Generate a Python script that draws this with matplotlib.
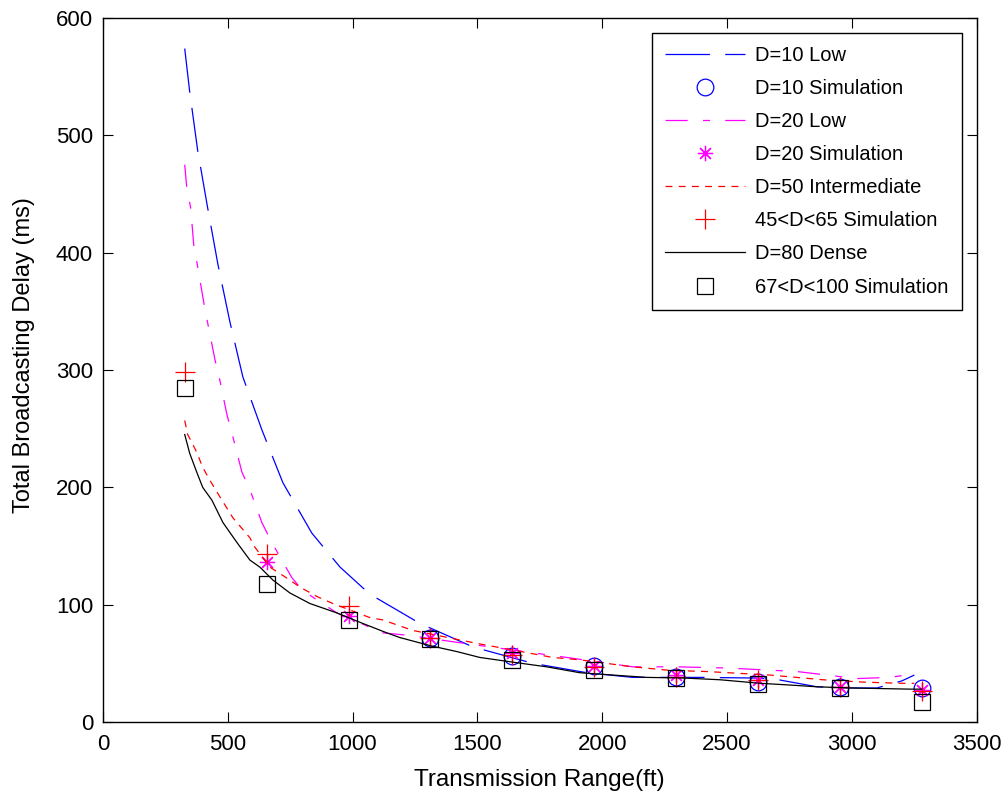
import matplotlib
matplotlib.use("Agg")
import matplotlib.pyplot as plt

plt.rcParams['font.family'] = ['Liberation Sans', 'DejaVu Sans']
plt.rcParams['lines.scale_dashes'] = False

# ---- analytic curves ----
x10 = [328, 348, 380, 420, 461, 509, 561, 637, 721, 837, 950, 1069, 1270, 1482, 1722,
       1938, 2122, 2400, 2600, 2680, 2860, 3000, 3100, 3200, 3250]
y10 = [574, 537, 487, 438, 390, 341, 294, 249, 204, 161, 132, 109, 84, 64, 50,
       42, 38, 38, 37.5, 37, 30, 29, 29, 35, 40]

x20 = [328, 336, 352, 364, 380, 404, 420, 449, 469, 497, 521, 557, 589, 637, 677, 757,
       801, 937, 1121, 1217, 1482, 1858, 2122, 2300, 2500, 2780, 3020, 3150, 3220]
y20 = [475, 456, 438, 407, 388, 358, 340, 309, 291, 262, 243, 213, 198, 170, 153, 123,
       112, 93, 76, 74, 66, 55, 47, 47, 46, 43, 37, 38, 40]

x50 = [328, 340, 376, 400, 429, 457, 489, 521, 557, 589, 609, 669, 749, 789, 857, 921,
       1069, 1121, 1242, 1498, 1802, 1910, 2122, 2271, 2419, 2671, 2779, 2883, 3044, 3192, 3250]
y50 = [257, 245, 230, 217, 206, 196, 185, 174, 165, 157, 149, 132, 121, 115, 107, 101,
       89, 87, 78, 67, 55, 53, 47, 44, 43, 40, 38, 36, 34, 33, 33]

x80 = [328, 348, 376, 400, 437, 481, 537, 589, 629, 681, 749, 829, 937, 1041, 1137, 1189,
       1312, 1418, 1510, 1642, 1778, 1910, 2042, 2179, 2323, 2471, 2631, 2751, 2859, 2992, 3232, 3280]
y80 = [245, 229, 213, 200, 189, 170, 153, 138, 132, 121, 110, 101, 93, 84, 76, 72,
       65, 60, 55, 51, 47, 42, 40, 38, 37.5, 36, 33, 31.5, 30, 29, 28, 28]

# ---- simulation points ----
xs = [328, 656, 984, 1312, 1640, 1968, 2296, 2624, 2952, 3280]
xs10 = xs[3:]
sim10 = [72, 56, 48, 38, 34, 30, 29]
xs20 = xs[1:]
sim20 = [136, 90, 72, 59, 48, 40, 36, 30, 27]
sim50 = [298, 143, 99, 72, 57, 47, 38, 36, 30, 26]
sim80 = [285, 118, 87, 70.5, 53, 44, 37.5, 32.5, 29, 17]

labels = ['D=10 Low', 'D=10 Simulation', 'D=20 Low', 'D=20 Simulation',
          'D=50 Intermediate', '45<D<65 Simulation', 'D=80 Dense', '67<D<100 Simulation']

xticks = [0, 500, 1000, 1500, 2000, 2500, 3000, 3500]
yticks = [0, 100, 200, 300, 400, 500, 600]

fig = plt.figure(figsize=(10.08, 7.94), dpi=100)
ax = fig.add_axes([0.102, 0.0907, 0.867, 0.8866])

lw = 0.9
mew = 0.9
ax.plot(x10, y10, color='#0000FF', lw=lw, dashes=(32, 11), label=labels[0])
ax.plot(xs10, sim10, ls='none', marker='o', ms=12, mfc='none', mec='#0000FF', mew=mew, label=labels[1])
ax.plot(x20, y20, color='#FF00FF', lw=lw, dashes=(16, 11, 5, 11), label=labels[2])
ax.plot(xs20, sim20, ls='none', marker=(8, 2, 0), ms=11, mec='#FF00FF', mew=mew, label=labels[3])
ax.plot(x50, y50, color='#FF0000', lw=lw, dashes=(5, 4.5), label=labels[4])
ax.plot(xs, sim50, ls='none', marker='+', ms=14, mec='#FF0000', mew=mew, label=labels[5])
ax.plot(x80, y80, color='black', lw=lw, label=labels[6])
ax.plot(xs, sim80, ls='none', marker='s', ms=12, mfc='none', mec='black', mew=mew, label=labels[7])

ax.set_xlim(0, 3500)
ax.set_ylim(0, 600)
ax.set_xticks(xticks)
ax.set_yticks(yticks)
ax.tick_params(direction='in', length=7, width=0.8, top=True, right=True, labelsize=16)
ax.tick_params(axis='x', pad=9)
ax.tick_params(axis='y', pad=7)
for s in ax.spines.values():
    s.set_linewidth(1.0)

ax.set_xlabel('Transmission Range(ft)', fontsize=17.5, labelpad=10)
ax.set_ylabel('Total Broadcasting Delay (ms)', fontsize=17)
ax.yaxis.set_label_coords(-0.078, 0.521)

leg = ax.legend(loc='upper right', bbox_to_anchor=(0.983, 0.979), fontsize=14.5,
                numpoints=1, handlelength=4.0, handletextpad=0.5, labelspacing=0.7,
                borderpad=0.65, fancybox=False, framealpha=1, edgecolor='black',
                borderaxespad=0)
leg.get_frame().set_linewidth(1.0)

fig.savefig('out.png', dpi=100)
